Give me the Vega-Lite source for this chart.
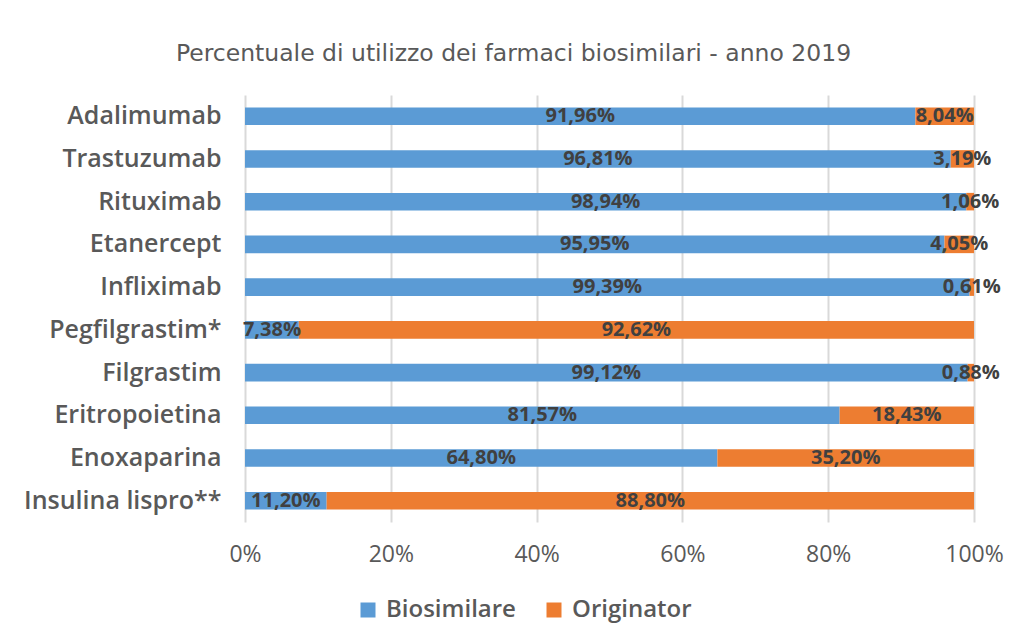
{
  "$schema": "https://vega.github.io/schema/vega-lite/v6.json",
  "autosize": "none",
  "width": 729,
  "height": 427,
  "padding": {"left": 245, "top": 95, "right": 40, "bottom": 117},
  "background": "white",
  "title": {
    "text": "Percentuale di utilizzo dei farmaci biosimilari - anno 2019",
    "fontSize": 23.5,
    "fontWeight": "normal",
    "font": "DejaVu Sans",
    "color": "#595959",
    "anchor": "middle",
    "dx": -96,
    "offset": 30
  },
  "data": {
    "values": [
      {"farmaco": "Adalimumab", "tipo": "Biosimilare", "quota": 0.9196},
      {"farmaco": "Adalimumab", "tipo": "Originator", "quota": 0.0804},
      {"farmaco": "Trastuzumab", "tipo": "Biosimilare", "quota": 0.9681},
      {"farmaco": "Trastuzumab", "tipo": "Originator", "quota": 0.0319},
      {"farmaco": "Rituximab", "tipo": "Biosimilare", "quota": 0.9894},
      {"farmaco": "Rituximab", "tipo": "Originator", "quota": 0.0106},
      {"farmaco": "Etanercept", "tipo": "Biosimilare", "quota": 0.9595},
      {"farmaco": "Etanercept", "tipo": "Originator", "quota": 0.0405},
      {"farmaco": "Infliximab", "tipo": "Biosimilare", "quota": 0.9939},
      {"farmaco": "Infliximab", "tipo": "Originator", "quota": 0.0061},
      {"farmaco": "Pegfilgrastim*", "tipo": "Biosimilare", "quota": 0.0738},
      {"farmaco": "Pegfilgrastim*", "tipo": "Originator", "quota": 0.9262},
      {"farmaco": "Filgrastim", "tipo": "Biosimilare", "quota": 0.9912},
      {"farmaco": "Filgrastim", "tipo": "Originator", "quota": 0.0088},
      {"farmaco": "Eritropoietina", "tipo": "Biosimilare", "quota": 0.8157},
      {"farmaco": "Eritropoietina", "tipo": "Originator", "quota": 0.1843},
      {"farmaco": "Enoxaparina", "tipo": "Biosimilare", "quota": 0.6480},
      {"farmaco": "Enoxaparina", "tipo": "Originator", "quota": 0.3520},
      {"farmaco": "Insulina lispro**", "tipo": "Biosimilare", "quota": 0.1120},
      {"farmaco": "Insulina lispro**", "tipo": "Originator", "quota": 0.8880}
    ]
  },
  "transform": [
    {"stack": "quota", "groupby": ["farmaco"], "offset": "normalize", "sort": [{"field": "tipo", "order": "ascending"}], "as": ["x0", "x1"]},
    {"calculate": "(datum.x0 + datum.x1) / 2", "as": "xm"}
  ],
  "encoding": {
    "y": {
      "field": "farmaco",
      "type": "nominal",
      "sort": ["Adalimumab", "Trastuzumab", "Rituximab", "Etanercept", "Infliximab", "Pegfilgrastim*", "Filgrastim", "Eritropoietina", "Enoxaparina", "Insulina lispro**"],
      "scale": {"paddingInner": 0.59, "paddingOuter": 0.29},
      "axis": {
        "title": null,
        "domain": false,
        "ticks": false,
        "labelPadding": 24,
        "labelFontSize": 25,
        "labelFont": "Open Sans",
        "labelFontWeight": 600,
        "labelColor": "#595959",
        "labelLimit": 300
      }
    }
  },
  "layer": [
    {
      "mark": {"type": "bar"},
      "encoding": {
        "x": {
          "field": "x0",
          "type": "quantitative",
          "scale": {"domain": [0, 1]},
          "axis": {
            "title": null,
            "format": ".0%",
            "values": [0, 0.2, 0.4, 0.6, 0.8, 1],
            "domain": false,
            "ticks": false,
            "grid": true,
            "gridColor": "#d9d9d9",
            "gridWidth": 2,
            "labelPadding": 21,
            "labelFontSize": 23,
            "labelFont": "Open Sans",
            "labelColor": "#595959",
            "labelOverlap": false,
            "labelFlush": false,
            "labelBound": false
          }
        },
        "x2": {"field": "x1"},
        "color": {
          "field": "tipo",
          "type": "nominal",
          "scale": {"domain": ["Biosimilare", "Originator"], "range": ["#5B9BD5", "#ED7D31"]},
          "legend": {
            "title": null,
            "orient": "none",
            "direction": "horizontal",
            "legendX": 111,
            "legendY": 503,
            "symbolType": "square",
            "symbolSize": 225,
            "symbolStrokeWidth": 0,
            "labelFontSize": 24,
            "labelFont": "Open Sans",
            "labelFontWeight": 600,
            "labelColor": "#595959",
            "columnPadding": 26,
            "labelOffset": 6
          }
        }
      }
    },
    {
      "mark": {"type": "text", "font": "Open Sans", "fontWeight": "bold", "fontSize": 20, "color": "#404040", "align": "center", "baseline": "middle"},
      "encoding": {
        "x": {"field": "xm", "type": "quantitative"},
        "text": {"field": "quota", "type": "quantitative", "format": ".2%"}
      }
    }
  ],
  "config": {
    "view": {"stroke": null},
    "locale": {"number": {"decimal": ",", "thousands": ".", "grouping": [3], "currency": ["", " €"]}}
  }
}
